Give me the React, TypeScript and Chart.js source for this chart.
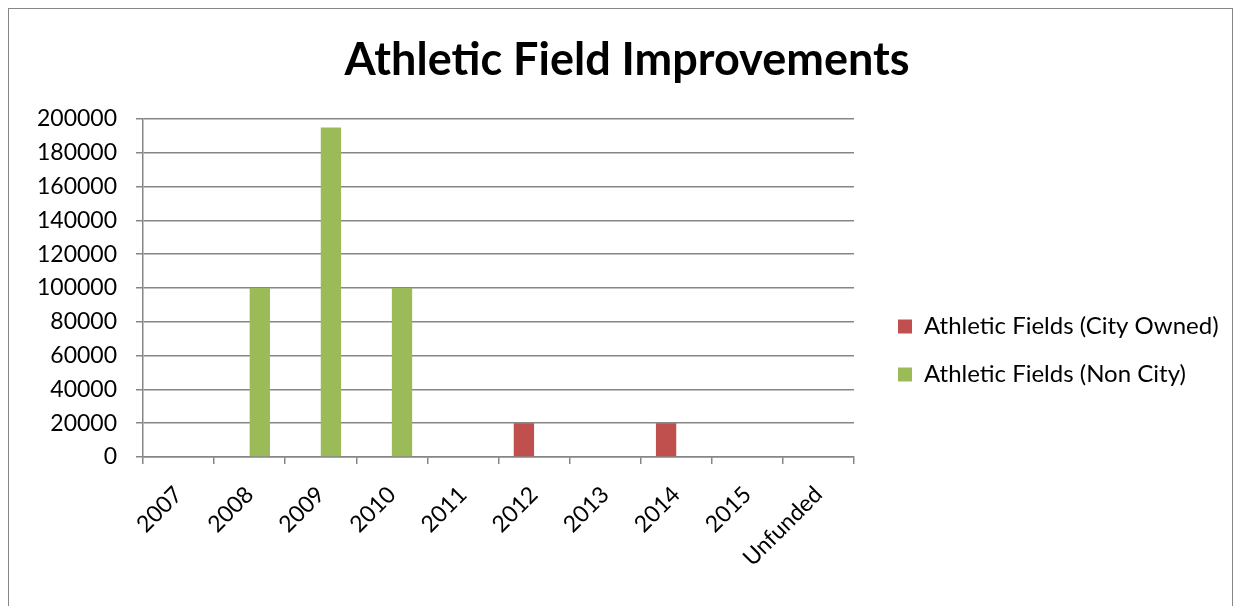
import React, { useEffect, useRef } from "react";
import { Chart, registerables } from "chart.js";

Chart.register(...registerables);

const categories = ["2007", "2008", "2009", "2010", "2011", "2012", "2013", "2014", "2015", "Unfunded"];
const cityOwned = [0, 0, 0, 0, 0, 20000, 0, 20000, 0, 0];
const nonCity = [0, 100000, 195000, 100000, 0, 0, 0, 0, 0, 0];
const seriesNames = ["Athletic Fields (City Owned)", "Athletic Fields (Non City)"];
const seriesColors = ["#C0504D", "#9BBB59"];
const titleText = "Athletic Field Improvements";
const yMin = 0;
const yMax = 200000;
const yStep = 20000;

const FONT = "Lato, 'Open Sans', sans-serif";
const AXIS = "#868686";
const LEGEND_GAP = 20;
const LEGEND_DY = 43;
const TITLE_LEFT = 13;

const placer = {
  id: "placer",
  afterLayout(chart: any) {
    const lg = chart.legend;
    if (lg) {
      lg.left = chart.chartArea.right + LEGEND_GAP;
      lg.right = chart.width;
      lg.top += LEGEND_DY;
      lg.bottom += LEGEND_DY;
    }
    const tb = chart.titleBlock;
    if (tb) {
      tb.left = TITLE_LEFT;
      tb.right = chart.width;
    }
  },
};

export default function App() {
  const ref = useRef<HTMLCanvasElement | null>(null);

  useEffect(() => {
    if (!ref.current) return;
    const chart = new Chart(ref.current, {
      type: "bar",
      data: {
        labels: categories,
        datasets: [
          { label: seriesNames[0], data: cityOwned, backgroundColor: seriesColors[0], borderWidth: 0 },
          { label: seriesNames[1], data: nonCity, backgroundColor: seriesColors[1], borderWidth: 0 },
        ],
      },
      plugins: [placer],
      options: {
        responsive: false,
        animation: false,
        datasets: { bar: { categoryPercentage: 2 / 3.5, barPercentage: 1 } },
        layout: { padding: { left: 0, right: 78, top: 0, bottom: 0 } },
        plugins: {
          tooltip: { enabled: false },
          title: {
            display: true,
            text: titleText,
            color: "#000",
            font: { family: FONT, size: 45, weight: "bold" },
            padding: { top: 24, bottom: 32 },
          },
          legend: {
            position: "right",
            align: "center",
            maxWidth: 300,
            labels: {
              boxWidth: 14,
              boxHeight: 14,
              color: "#000",
              padding: 24,
              font: { family: FONT, size: 24 },
            },
          },
        },
        scales: {
          x: {
            grid: { offset: true, drawOnChartArea: false, drawTicks: true, tickLength: 7, color: AXIS, lineWidth: 1.5 },
            border: { display: true, color: AXIS, width: 1.5 },
            ticks: { minRotation: 45, maxRotation: 45, color: "#000", font: { family: FONT, size: 23 }, padding: 17 },
            afterFit: (s: any) => { s.height = 149; },
          },
          y: {
            min: yMin,
            max: yMax,
            grid: { color: AXIS, lineWidth: 1.5, tickLength: 7, drawTicks: true },
            border: { display: true, color: AXIS, width: 1.5 },
            ticks: {
              stepSize: yStep,
              color: "#000",
              padding: 19,
              font: { family: FONT, size: 23 },
              callback: (v: any) => String(v),
            },
            afterFit: (s: any) => { s.width = 134; },
          },
        },
      },
    });
    return () => chart.destroy();
  }, []);

  return (
    <div
      style={{
        position: "relative",
        width: 1225,
        height: 598,
        boxSizing: "border-box",
        borderTop: `1px solid ${AXIS}`,
        borderLeft: `1px solid ${AXIS}`,
        borderRight: `1px solid ${AXIS}`,
        background: "#fff",
      }}
    >
      <canvas ref={ref} width={1223} height={597} style={{ display: "block", width: 1223, height: 597 }} />
    </div>
  );
}
